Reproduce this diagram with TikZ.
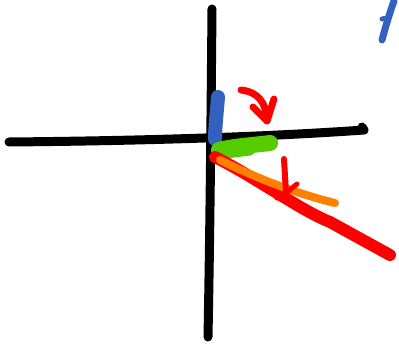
\documentclass[tikz,border=0pt]{standalone}
\begin{document}
\begin{tikzpicture}[x=1pt,y=-1pt,line cap=round,line join=round,
  blk/.style={draw=black,line width=9pt},
]
\definecolor{sblue}{HTML}{3262BE}
\definecolor{sgreen}{HTML}{55CC00}
\definecolor{sred}{HTML}{FF0000}
\definecolor{sorange}{HTML}{FF8000}
\useasboundingbox[fill=white] (0,0) rectangle (399,345);
% axes
\coordinate (vt) at (212,9);
\coordinate (vb) at (208,337);
\draw[blk] (vt) .. controls (211,120) and (210,230) .. (vb);
\coordinate (hl) at (9,142);
\coordinate (hr) at (364,130);
\draw[blk] (hl) .. controls (120,141) and (250,138) .. (hr) -- (362,127);
% blue blob
\coordinate (b1) at (218,97);
\coordinate (b2) at (215,139);
\draw[sblue,line width=14pt] (b1) .. controls (217,110) and (215,128) .. (b2);
% green blob
\coordinate (g1) at (219,150);
\coordinate (g2) at (270,143);
\draw[sgreen,line width=16pt] (g1) .. controls (235,146) and (255,145) .. (g2);
\draw[sgreen,line width=9pt] (218,155) -- (250,151);
% red curved arrow
\coordinate (r1) at (241,90);
\coordinate (r2) at (267,121);
\draw[sred,line width=7pt] (r1) .. controls (258,92) and (266,102) .. (r2);
\draw[sred,line width=7pt] (253,107) -- (r2) -- (274,99);
% red long line
\coordinate (l1) at (215,157);
\coordinate (l2) at (390,255);
\draw[sred,line width=12pt] (l1) .. controls (260,180) and (300,210) .. (330,222) -- (l2);
% orange line
\coordinate (o1) at (220,160);
\coordinate (o2) at (335,203);
\draw[sorange,line width=8pt] (o1) .. controls (250,175) and (290,192) .. (o2);
% small red arrow
\coordinate (s1) at (284,159);
\coordinate (s2) at (286,193);
\draw[sred,line width=6pt] (s1) -- (s2);
\draw[sred,line width=5pt] (277,198) -- (s2) -- (297,184);
% blue mark top right
\coordinate (m1) at (382,40);
\coordinate (m2) at (394,1);
\draw[sblue,line width=7pt] (m1) .. controls (386,25) and (390,12) .. (m2);
\draw[sblue,line width=5pt] (382,19) -- (387,18);
\end{tikzpicture}
\end{document}
